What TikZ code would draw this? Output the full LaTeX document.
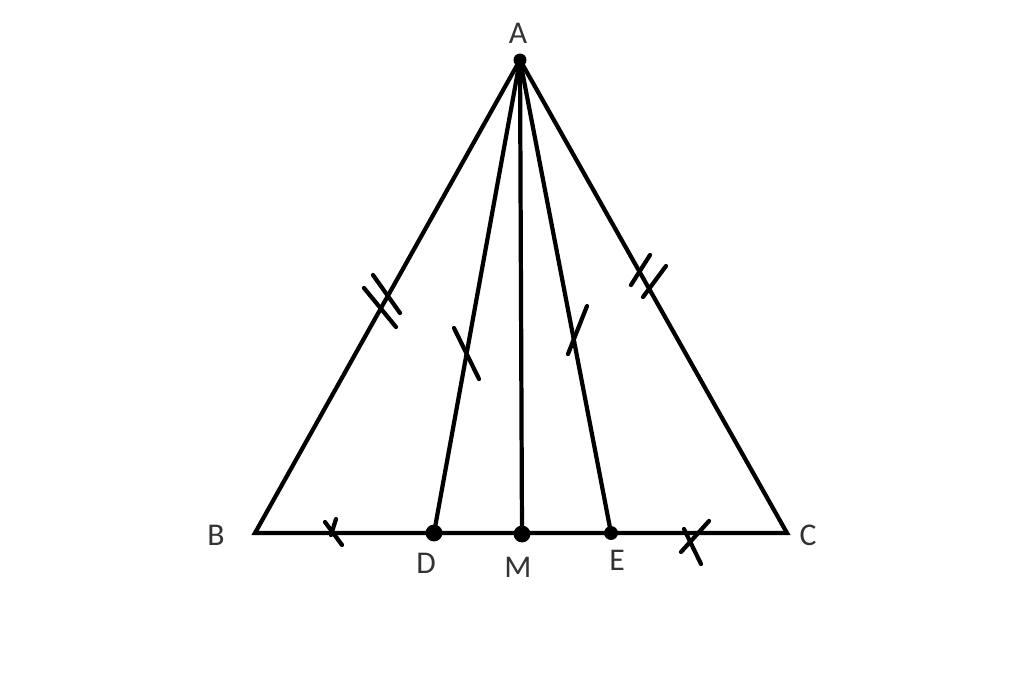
\documentclass[tikz,border=0pt]{standalone}
\usepackage{fontspec}
\setmainfont{Carlito}
\begin{document}
\begin{tikzpicture}[x=0.01cm, y=-0.01cm, line width=1.2pt, line cap=round]
		\useasboundingbox (0,0) rectangle (1024,693);
		\tikzset{dot/.style={circle,fill,inner sep=1.7pt}, lbl/.style={font=\fontsize{9}{10}\selectfont, text=black!80}}
		%points
		\coordinate (A) at (520,60);
		\coordinate (B) at (255,533);
		\coordinate (C) at (787,533);
		\coordinate (D) at (434,533);
		\coordinate (M) at (522,534);
		\coordinate (E) at (611,533);
		
		%triangle and cevians
		\draw (A) -- (B) -- (C) -- cycle;
		\draw (A) -- (D);
		\draw (A) -- (M);
		\draw (A) -- (E);
		
		\node (dA) at (A) [dot, inner sep=1.3pt]{};
		\node (dD) at (D) [dot]{};
		\node (dM) at (M) [dot]{};
		\node (dE) at (E) [dot, inner sep=1.4pt]{};
		
		%labels
		\node (lA) at (518,33) [lbl]{A};
		\node (lB) at (216,535) [lbl]{B};
		\node (lC) at (808,535) [lbl]{C};
		\node (lD) at (426,563) [lbl]{D};
		\node (lM) at (518,567) [lbl]{M};
		\node (lE) at (617,560) [lbl]{E};
		
		%tick marks
		\draw (364,288) -- (396,327);
		\draw (373,275) -- (400,313);
		\draw (650,255) -- (631,285);
		\draw (666,266) -- (643,297);
		\draw (454,328) -- (479,379);
		\draw (587,306) -- (568,354);
		\draw (325,522) -- (342,545);
		\draw (336,519) -- (331,535);
		\draw (709,521) -- (681,552);
		\draw (684,529) -- (701,564);
\end{tikzpicture}
\end{document}
